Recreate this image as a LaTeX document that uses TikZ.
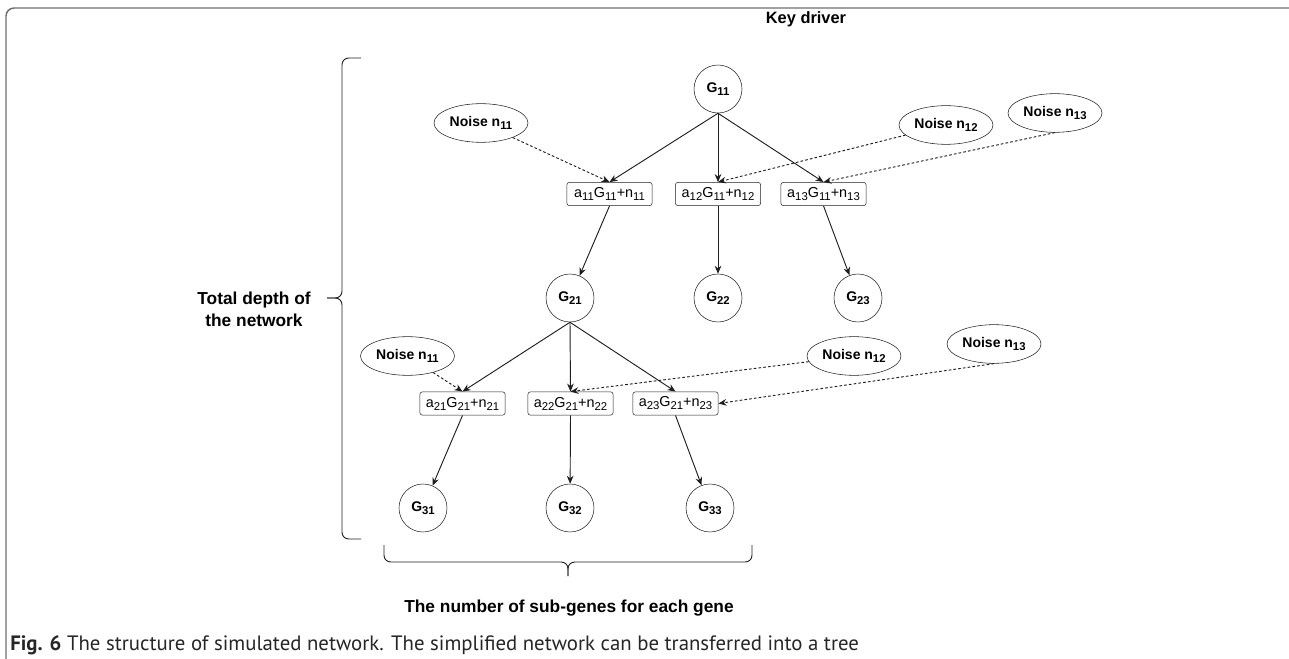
\documentclass[tikz,border=0pt]{standalone}
\usepackage{fontspec}
\setmainfont{Liberation Sans}
\newfontfamily\capfont{PT Sans}
\usepackage{tikz}
\usetikzlibrary{positioning,arrows.meta,shapes.geometric}
\definecolor{ink}{HTML}{1E1E1E}
\definecolor{frame}{HTML}{6E6E6E}
\newcommand{\sub}[1]{\raisebox{-0.4ex}{\fontsize{8.5}{9}\selectfont #1}}

\begin{document}
\begin{tikzpicture}[x=0.75pt,y=-0.75pt, every node/.style={font=\fontsize{10.8}{12}\selectfont},
  gene/.style={draw=ink, circle, minimum size=36pt, inner sep=0pt, font=\fontsize{10.5}{12}\selectfont\bfseries},
  noise/.style={draw=ink, ellipse, minimum width=70.5pt, minimum height=29pt, inner sep=0pt,
                font=\fontsize{10.5}{12}\selectfont\bfseries},
  expr/.style={draw=ink, rounded corners=2pt, minimum width=64pt, minimum height=17.5pt, inner sep=1pt},
  link/.style={draw=ink, line width=0.7pt, -{Stealth[length=6pt,width=5pt]}},
  noisy/.style={link, dash pattern=on 2pt off 1.6pt},
  brace/.style={draw=ink, line width=0.7pt, rounded corners=5pt},
  caption/.style={font=\fontsize{13}{16}\selectfont\bfseries},
]
  \useasboundingbox (0,0) rectangle (1289,659);
  \draw[frame, line width=1.1pt, rounded corners=6pt] (1289,8) -- (6,8) -- (6,659);

  % First level
  \node[caption, font=\fontsize{12.3}{14}\selectfont\bfseries] (key) at (806,19) {Key driver};
  \node[gene] (g11) at (718,89) {G\sub{11}};
  \node[noise] (n11a) at (481,123) {Noise n\sub{11}};
  \node[noise] (n12a) at (946,125) {Noise n\sub{12}};
  \node[noise] (n13a) at (1055,113) {Noise n\sub{13}};
  \node[expr] (b11) at (609.5,194) {a\sub{11}G\sub{11}+n\sub{11}};
  \node[expr] (b12) at (718,194) {a\sub{12}G\sub{11}+n\sub{12}};
  \node[expr] (b13) at (823.5,194) {a\sub{13}G\sub{11}+n\sub{13}};
  \node[gene] (g21) at (570,298) {G\sub{21}};
  \node[gene] (g22) at (718,298) {G\sub{22}};
  \node[gene] (g23) at (858,298) {G\sub{23}};

  \draw[link] (g11.south) -- (b11.north);
  \draw[link] (g11.south) -- (b12.north);
  \draw[link] (g11.south) -- (b13.north);
  \draw[noisy] (n11a) -- (b11.north);
  \draw[noisy] (n12a) -- (b12.north);
  \draw[noisy] (n13a.south) -- (b13.north);
  \draw[link] (b11.south) -- (g21);
  \draw[link] (b12.south) -- (g22);
  \draw[link] (b13.south) -- (g23);

  % Second level
  \node[noise] (n11b) at (407.5,356) {Noise n\sub{11}};
  \node[noise] (n12b) at (854,356) {Noise n\sub{12}};
  \node[noise] (n13b) at (994,344) {Noise n\sub{13}};
  \node[expr] (b21) at (462.5,403.5) {a\sub{21}G\sub{21}+n\sub{21}};
  \node[expr] (b22) at (570.5,403.5) {a\sub{22}G\sub{21}+n\sub{22}};
  \node[expr] (b23) at (675.5,403.5) {a\sub{23}G\sub{21}+n\sub{23}};
  \node[gene] (g31) at (423,508) {G\sub{31}};
  \node[gene] (g32) at (570,508) {G\sub{32}};
  \node[gene] (g33) at (710,508) {G\sub{33}};

  \draw[link] (g21.south) -- (b21.north);
  \draw[link] (g21.south) -- (b22.north);
  \draw[link] (g21.south) -- (b23.north);
  \draw[noisy] (n11b) -- (b21.north);
  \draw[noisy] (n12b) -- (b22.north);
  \draw[noisy] (n13b.south) -- (b23.east);
  \draw[link] (b21.south) -- (g31);
  \draw[link] (b22.south) -- (g32);
  \draw[link] (b23.south) -- (g33);

  % Braces and their labels
  \coordinate (dtip) at (327,298);
  \coordinate (wtip) at (568,576);
  \draw[brace] (361,58) -- (342,58) -- (342,298) -- (dtip);
  \draw[brace] (361,539) -- (342,539) -- (342,298) -- (dtip);
  \draw[brace] (384,545) -- (384,562) -- (568,562) -- (wtip);
  \draw[brace] (752,545) -- (752,562) -- (568,562) -- (wtip);
  \node[caption, align=center, font=\fontsize{13}{16.5}\selectfont\bfseries] (depth) at (254,309)
    {Total depth of\\the network};
  \node[caption] (width) at (569,608)
    {The number of sub-genes for each gene};

  \node[anchor=west, inner sep=0pt, text=black!85, font=\capfont\fontsize{15.6}{18}\selectfont] (cap) at (10,645)
    {\textbf{Fig. 6} The structure of simulated network. The simplified network can be transferred into a tree};
\end{tikzpicture}
\end{document}
